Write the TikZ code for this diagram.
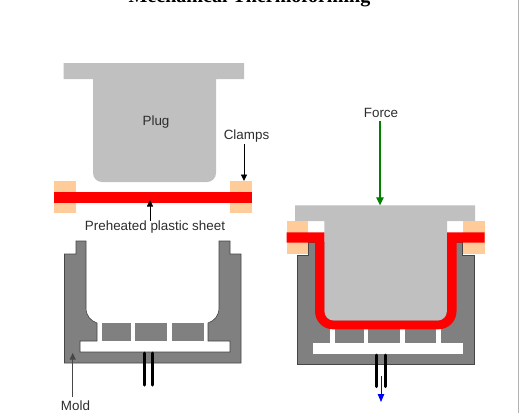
\documentclass[tikz,border=0pt]{standalone}
\usepackage{fontspec}
\setmainfont{Liberation Sans}
\newfontfamily\titlefont{Liberation Serif}
\usetikzlibrary{arrows.meta}
\definecolor{plugc}{RGB}{192,192,192}
\definecolor{moldc}{RGB}{128,128,128}
\definecolor{clampc}{RGB}{255,204,153}
\definecolor{txt}{RGB}{45,45,45}
\definecolor{edgec}{RGB}{70,70,70}
\tikzset{
  plugshape/.style={fill=plugc,draw=none},
  moldshape/.style={fill=moldc,draw=edgec,line width=0.6pt},
  segshape/.style={fill=moldc,draw=none},
  clampshape/.style={fill=clampc,draw=none},
  sheetshape/.style={fill=red,draw=none},
  pinline/.style={draw=black,line width=3pt,line cap=round},
  lbl/.style={font=\fontsize{13.4}{15}\selectfont,text=txt,inner sep=0pt},
  callout/.style={draw=black,line width=0.9pt,-{Triangle[length=6.5pt,width=6pt]}}
}
\begin{document}
\begin{tikzpicture}[x=1pt,y=-1pt]
\useasboundingbox (0,0) rectangle (519,413);
\clip (0,0) rectangle (519,413);
\fill[white] (0,0) rectangle (519,413);
\draw[draw=gray!60,line width=0.8pt] (518.5,0) -- (518.5,413);
\node[font=\titlefont\bfseries\fontsize{20}{22}\selectfont,anchor=base,inner sep=0pt] (title) at (249.5,2.5) {Mechanical Thermoforming};
% left plug
\path[plugshape,rounded corners=0pt] (63.5,63) -- (244,63) -- (244,79) -- (216,79) [rounded corners=9pt] -- (216,182) -- (93,182) [rounded corners=0pt] -- (93,79) -- (63.5,79) -- cycle;
\node[lbl] (plug) at (156,122) {Plug};
% clamps and sheet
\fill[clampshape] (54,181) rectangle (76,213);
\fill[clampshape] (230,181) rectangle (252,213);
\fill[sheetshape] (54,192) rectangle (252,203);
\coordinate (clamptip) at (244,181);
\coordinate (sheettip) at (150,200);
\node[lbl] (clamps) at (246.5,136) {Clamps};
\node[lbl] (sheet) at (155,227) {Preheated plastic sheet};
\draw[callout,shorten <=2pt] (clamps.south -| clamptip) -- (clamptip);
\draw[callout] (sheet.north -| sheettip) -- (sheettip);
% left mold
\path[moldshape] (64.5,254) -- (76,254) -- (76,241) -- (86,241) -- (86,308) .. controls (86,316) and (91,321) .. (97,323) -- (97,341) -- (80,341) -- (80,352) -- (230,352) -- (230,341) -- (208,341) -- (208,323) .. controls (214,321) and (219,316) .. (219,308) -- (219,241) -- (230,241) -- (230,254) -- (241,254) -- (241,363) -- (64.5,363) -- cycle;
\fill[segshape] (102,323) rectangle (131,341);
\fill[segshape] (135,323) rectangle (167,341);
\fill[segshape] (172,323) rectangle (204,341);
\draw[pinline] (144,353) -- (144,385);
\draw[pinline] (152.7,353) -- (152.7,385);
\coordinate (moldtip) at (72.7,353);
\node[lbl] (mold) at (75.5,405.5) {Mold};
\draw[callout,draw=edgec,shorten <=3pt] (mold.north -| moldtip) -- (moldtip);
% right mold
\path[moldshape] (297,255.3) -- (308.3,255.3) -- (308.3,242.7) -- (462.7,242.7) -- (462.7,255.3) -- (474.3,255.3) -- (474.3,364.7) -- (297,364.7) -- cycle;
\fill[white] (313.3,342.7) rectangle (462.7,353.7);
\foreach \xa/\xb in {330.3/335,363.7/368.3,399.7/404.7,436.3/440.7}
  \fill[white] (\xa,325) rectangle (\xb,343);
% right plug
\path[plugshape,rounded corners=0pt] (295,205.3) -- (475,205.3) -- (475,221) -- (447,221) [rounded corners=10pt] -- (447,320.7) -- (324.3,320.7) [rounded corners=0pt] -- (324.3,221) -- (295,221) -- cycle;
% clamps and formed sheet
\fill[clampshape] (286.7,221) rectangle (308.3,254.3);
\fill[clampshape] (462.7,221) rectangle (484.7,254.3);
\path[sheetshape,rounded corners=0pt] (286.7,232.3) -- (324.3,232.3) [rounded corners=9pt] -- (324.3,320.7) -- (447,320.7) [rounded corners=0pt] -- (447,232.3) -- (484.7,232.3) -- (484.7,242.7) -- (456.5,242.7) [rounded corners=18pt] -- (456.5,329.3) -- (315,329.3) [rounded corners=0pt] -- (315,242.7) -- (286.7,242.7) -- cycle;
% right pins and arrows
\draw[pinline] (376.7,355) -- (376.7,386.5);
\draw[pinline] (385.7,355) -- (385.7,386.5);
\coordinate (forcetip) at (380,205.3);
\node[lbl] (force) at (381,113) {Force};
\draw[callout,draw={rgb,255:red,0;green,128;blue,0},line width=1.1pt,shorten <=3pt,-{Triangle[length=8pt,width=7.5pt]}] (force.south -| forcetip) -- (forcetip);
\coordinate (ventstart) at (381,376);
\coordinate (venttip) at (381,402);
\draw[draw=blue,line width=0.8pt,-{Triangle[length=8pt,width=6.5pt]}] (ventstart) -- (venttip);
\end{tikzpicture}
\end{document}
